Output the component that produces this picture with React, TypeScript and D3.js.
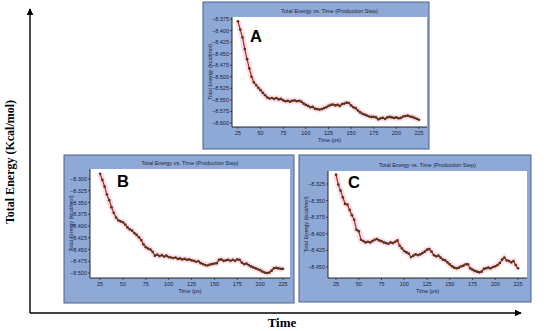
import React from 'react';
import * as d3 from 'd3';

// time grid (ps), every 2.5 ps from 25 to 225
const times = d3.range(25, 225.01, 2.5);

const energyA = [
  -8.380, -8.398, -8.415, -8.440, -8.462, -8.482, -8.500, -8.512, -8.518, -8.524,
  -8.529, -8.535, -8.540, -8.545, -8.547, -8.546, -8.548, -8.546, -8.549, -8.548,
  -8.551, -8.553, -8.552, -8.554, -8.552, -8.551, -8.553, -8.552, -8.554, -8.558,
  -8.561, -8.563, -8.566, -8.565, -8.569, -8.570, -8.571, -8.570, -8.568, -8.566,
  -8.563, -8.561, -8.560, -8.562, -8.561, -8.563, -8.559, -8.558, -8.556, -8.557,
  -8.562, -8.566, -8.568, -8.573, -8.577, -8.580, -8.582, -8.584, -8.586, -8.587,
  -8.587, -8.588, -8.592, -8.590, -8.589, -8.591, -8.588, -8.587, -8.588, -8.589,
  -8.588, -8.590, -8.589, -8.586, -8.585, -8.584, -8.586, -8.587, -8.589, -8.591,
  -8.593
];

const energyB = [
  -8.289, -8.302, -8.316, -8.333, -8.345, -8.360, -8.372, -8.382, -8.388, -8.390,
  -8.392, -8.397, -8.403, -8.407, -8.410, -8.415, -8.419, -8.424, -8.430, -8.439,
  -8.445, -8.448, -8.450, -8.455, -8.463, -8.461, -8.464, -8.462, -8.465, -8.463,
  -8.466, -8.467, -8.468, -8.467, -8.470, -8.469, -8.471, -8.470, -8.472, -8.471,
  -8.473, -8.474, -8.476, -8.475, -8.479, -8.481, -8.483, -8.484, -8.482, -8.481,
  -8.480, -8.479, -8.472, -8.471, -8.474, -8.473, -8.472, -8.474, -8.472, -8.474,
  -8.471, -8.472, -8.478, -8.481, -8.480, -8.483, -8.486, -8.488, -8.490, -8.492,
  -8.494, -8.497, -8.499, -8.500, -8.499, -8.495, -8.490, -8.489, -8.490, -8.491,
  -8.491
];

const energyC = [
  -8.311, -8.326, -8.335, -8.345, -8.355, -8.356, -8.364, -8.372, -8.379, -8.394,
  -8.396, -8.409, -8.411, -8.413, -8.412, -8.413, -8.411, -8.409, -8.408, -8.410,
  -8.411, -8.413, -8.414, -8.415, -8.413, -8.414, -8.412, -8.410, -8.418, -8.422,
  -8.426, -8.428, -8.430, -8.435, -8.433, -8.431, -8.432, -8.431, -8.429, -8.427,
  -8.424, -8.423, -8.427, -8.432, -8.434, -8.433, -8.436, -8.439, -8.440, -8.443,
  -8.446, -8.449, -8.451, -8.452, -8.451, -8.449, -8.448, -8.446, -8.446, -8.452,
  -8.454, -8.456, -8.457, -8.458, -8.457, -8.453, -8.452, -8.451, -8.452, -8.450,
  -8.449, -8.447, -8.444, -8.439, -8.436, -8.440, -8.441, -8.443, -8.441, -8.447,
  -8.452
];

const xTicks = [25, 50, 75, 100, 125, 150, 175, 200, 225];
const yTicksA = [-8.375, -8.4, -8.425, -8.45, -8.475, -8.5, -8.525, -8.55, -8.575, -8.6];
const yTicksB = [-8.3, -8.325, -8.35, -8.375, -8.4, -8.425, -8.45, -8.475, -8.5];
const yTicksC = [-8.325, -8.35, -8.375, -8.4, -8.425, -8.45];

const xDomainA = [18.4, 233.8];
const xDomainB = [14, 232.6];
const xDomainC = [16.2, 234.9];
const yDomainA = [-8.6087, -8.3707];
const yDomainB = [-8.5106, -8.2787];
const yDomainC = [-8.4666, -8.3054];

const panelTitle = 'Total Energy vs. Time (Production Step)';
const panelYLabel = 'Total Energy (kcal/mol)';
const panelXLabel = 'Time (ps)';

const fmt = d3.format('.3f');

const Panel = ({box, plot, letter, letterPos, values, xDomain, yDomain, yTicks}) => {
  const x = d3.scaleLinear().domain(xDomain).range([plot.x0, plot.x1]);
  const y = d3.scaleLinear().domain(yDomain).range([plot.y1, plot.y0]);
  const pts = times.map((t, i) => [t, values[i]]);
  const line = d3.line().x(d => x(d[0])).y(d => y(d[1]));
  const path = line(pts);
  const midX = (plot.x0 + plot.x1) / 2;
  const midY = (plot.y0 + plot.y1) / 2;
  const tickFont = {fontFamily: 'Liberation Sans, Arial, sans-serif', fontSize: 5.5, fill: '#1b2238'};

  return (
    <g>
      <rect x={box.x0} y={box.y0} width={box.x1 - box.x0} height={box.y1 - box.y0}
            fill="#8fa9d7" stroke="#4d5f86" strokeWidth={1}/>
      <rect x={plot.x0} y={plot.y0} width={plot.x1 - plot.x0} height={plot.y1 - plot.y0}
            fill="#ffffff"/>
      <text x={midX} y={plot.y0 - 4} textAnchor="middle" {...tickFont}>{panelTitle}</text>
      {/* axes */}
      <line x1={plot.x0} x2={plot.x0} y1={plot.y0} y2={plot.y1} stroke="#111" strokeWidth={0.9}/>
      <line x1={plot.x0} x2={plot.x1} y1={plot.y1} y2={plot.y1} stroke="#111" strokeWidth={0.9}/>
      {yTicks.map(v => (
        <g key={v}>
          <line x1={plot.x0 - 2} x2={plot.x0} y1={y(v)} y2={y(v)} stroke="#111" strokeWidth={0.6}/>
          <text x={plot.x0 - 3} y={y(v) + 2} textAnchor="end" {...tickFont}>{fmt(v)}</text>
        </g>
      ))}
      {xTicks.map(v => (
        <g key={v}>
          <line x1={x(v)} x2={x(v)} y1={plot.y1} y2={plot.y1 + 2} stroke="#111" strokeWidth={0.6}/>
          <text x={x(v)} y={plot.y1 + 8} textAnchor="middle" {...tickFont}>{v}</text>
        </g>
      ))}
      <text x={midX} y={plot.y1 + 15} textAnchor="middle" {...tickFont}>{panelXLabel}</text>
      <text transform={`translate(${box.x0 + 9},${midY}) rotate(-90)`} textAnchor="middle" {...tickFont}>
        {panelYLabel}
      </text>
      {/* data */}
      <path d={path} fill="none" stroke="#f6c3d8" strokeWidth={6} strokeOpacity={0.55}/>
      <path d={path} fill="none" stroke="#b02418" strokeWidth={1.2}/>
      {pts.map((d, i) => (
        <circle key={i} cx={x(d[0])} cy={y(d[1])} r={1.35} fill="#5a3318"/>
      ))}
      <text x={letterPos[0]} y={letterPos[1]} fontFamily="Liberation Sans, Arial, sans-serif"
            fontWeight="bold" fontSize={16.5} fill="#000">{letter}</text>
    </g>
  );
};

export default function App() {
  const W = 550, H = 331;
  return (
    <svg width={W} height={H} style={{position: 'absolute', left: 0, top: 0, background: '#fff'}}>
      <defs>
        <marker id="arr" viewBox="0 0 10 10" refX="9" refY="5" markerWidth="5" markerHeight="5" orient="auto">
          <path d="M0,0 L10,5 L0,10 z" fill="#000"/>
        </marker>
      </defs>
      {/* big axes */}
      <line x1={30} y1={313} x2={30} y2={9} stroke="#000" strokeWidth={1.4} markerEnd="url(#arr)"/>
      <line x1={30} y1={313} x2={521} y2={313} stroke="#000" strokeWidth={1.4} markerEnd="url(#arr)"/>
      <text transform="translate(14,162) rotate(-90)" textAnchor="middle"
            fontFamily="Liberation Serif, Times New Roman, serif" fontWeight="bold" fontSize={12}>
        Total Energy (Kcal/mol)
      </text>
      <text x={282} y={327} textAnchor="middle"
            fontFamily="Liberation Serif, Times New Roman, serif" fontWeight="bold" fontSize={13}>
        Time
      </text>

      <Panel box={{x0: 203, y0: 2, x1: 429, y1: 149}} plot={{x0: 232, y0: 17, x1: 427, y1: 127}}
             letter="A" letterPos={[250, 42]} values={energyA}
             xDomain={xDomainA} yDomain={yDomainA} yTicks={yTicksA}/>
      <Panel box={{x0: 64, y0: 155, x1: 294, y1: 303}} plot={{x0: 90, y0: 169, x1: 290, y1: 278}}
             letter="B" letterPos={[117, 187]} values={energyB}
             xDomain={xDomainB} yDomain={yDomainB} yTicks={yTicksB}/>
      <Panel box={{x0: 299, y0: 155, x1: 531, y1: 302}} plot={{x0: 328, y0: 171, x1: 527, y1: 278}}
             letter="C" letterPos={[348, 188]} values={energyC}
             xDomain={xDomainC} yDomain={yDomainC} yTicks={yTicksC}/>
    </svg>
  );
}
